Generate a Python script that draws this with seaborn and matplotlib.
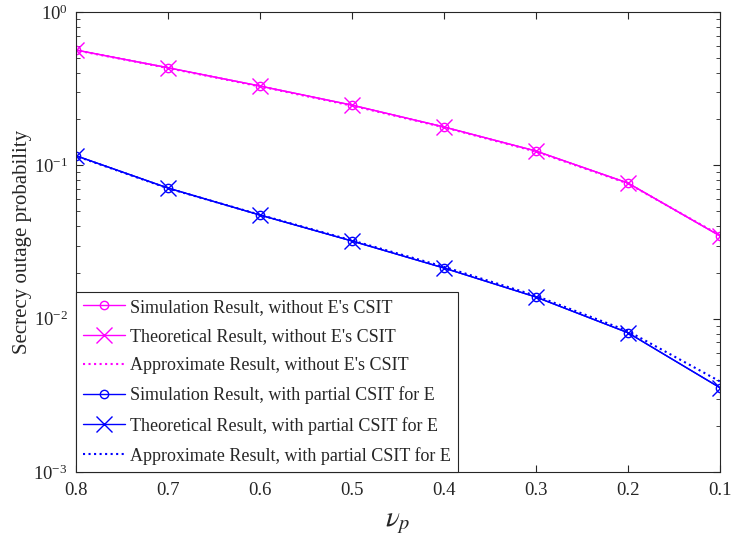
import numpy as np
import pandas as pd
import matplotlib
matplotlib.use("Agg")
import matplotlib.pyplot as plt
import seaborn as sns
from matplotlib.ticker import LogLocator, NullFormatter

nu_p = [0.8, 0.7, 0.6, 0.5, 0.4, 0.3, 0.2, 0.1]
sim_no_csit = [0.565, 0.433, 0.329, 0.247, 0.178, 0.124, 0.0767, 0.0347]
theo_no_csit = [0.565, 0.433, 0.329, 0.247, 0.178, 0.124, 0.0767, 0.0347]
approx_no_csit = [0.563, 0.431, 0.327, 0.245, 0.177, 0.123, 0.0762, 0.0350]
sim_partial = [0.1155, 0.0711, 0.0474, 0.0321, 0.0214, 0.01384, 0.0081, 0.00355]
theo_partial = [0.1155, 0.0711, 0.0474, 0.0321, 0.0214, 0.01384, 0.0081, 0.00355]
approx_partial = [0.1150, 0.0708, 0.0476, 0.0324, 0.0218, 0.01410, 0.0083, 0.0039]

labels = ["Simulation Result, without E's CSIT",
          "Theoretical Result, without E's CSIT",
          "Approximate Result, without E's CSIT",
          "Simulation Result, with partial CSIT for E",
          "Theoretical Result, with partial CSIT for E",
          "Approximate Result, with partial CSIT for E"]

sns.set_style("ticks")
plt.rcParams['font.family'] = ['Liberation Serif', 'DejaVu Serif']
plt.rcParams['mathtext.fontset'] = 'stix'

fig = plt.figure(figsize=(7.33, 5.38), dpi=100)
ax = fig.add_axes([0.1037, 0.1227, 0.8783, 0.855])

magenta = '#ff00ff'
blue = '#0000ff'
series = [
    (sim_no_csit, magenta, '-', 'o', 6),
    (theo_no_csit, magenta, '-', 'x', 12),
    (approx_no_csit, magenta, ':', None, 0),
    (sim_partial, blue, '-', 'o', 6),
    (theo_partial, blue, '-', 'x', 12),
    (approx_partial, blue, ':', None, 0),
]
for (vals, col, ls, mk, ms), lab in zip(series, labels):
    df = pd.DataFrame({'x': nu_p, 'y': vals})
    kw = dict(marker=mk, markersize=ms, markerfacecolor='none',
              markeredgecolor=col, markeredgewidth=1.0) if mk else {}
    sns.lineplot(data=df, x='x', y='y', ax=ax, color=col, linestyle=ls,
                 linewidth=1.5 if ls == ':' else 1.0, label=lab, **kw)

ax.set_yscale('log')
ax.set_ylim(1e-3, 1e0)
ax.set_xlim(0.8, 0.1)
ax.set_xticks(nu_p)
ax.set_xticklabels([f"{v:.1f}" for v in nu_p])
ax.yaxis.set_major_locator(LogLocator(base=10, numticks=10))
ax.yaxis.set_minor_locator(LogLocator(base=10, subs=np.arange(2, 10), numticks=100))
ax.yaxis.set_minor_formatter(NullFormatter())
ax.tick_params(which='both', direction='in', top=True, right=True, labelsize=13.5,
               colors='#262626')
ax.tick_params(axis='x', pad=7)
ax.tick_params(axis='y', pad=6)
ax.tick_params(which='major', length=5)
ax.tick_params(which='minor', length=3)
for s in ax.spines.values():
    s.set_visible(True)
    s.set_color('#262626')
    s.set_linewidth(0.8)

ax.set_xlabel(r'$\nu_p$', fontsize=21, labelpad=8)
ax.set_ylabel('Secrecy outage probability', fontsize=15, labelpad=1)

leg = ax.legend(loc='lower left', fontsize=13, frameon=True, fancybox=False,
                borderaxespad=0.0, handlelength=2.3, labelspacing=0.68,
                borderpad=0.4, handletextpad=0.3)
leg.get_frame().set_edgecolor('#262626')
leg.get_frame().set_linewidth(0.8)
leg.get_frame().set_alpha(1)

fig.savefig('out.png', dpi=100)
